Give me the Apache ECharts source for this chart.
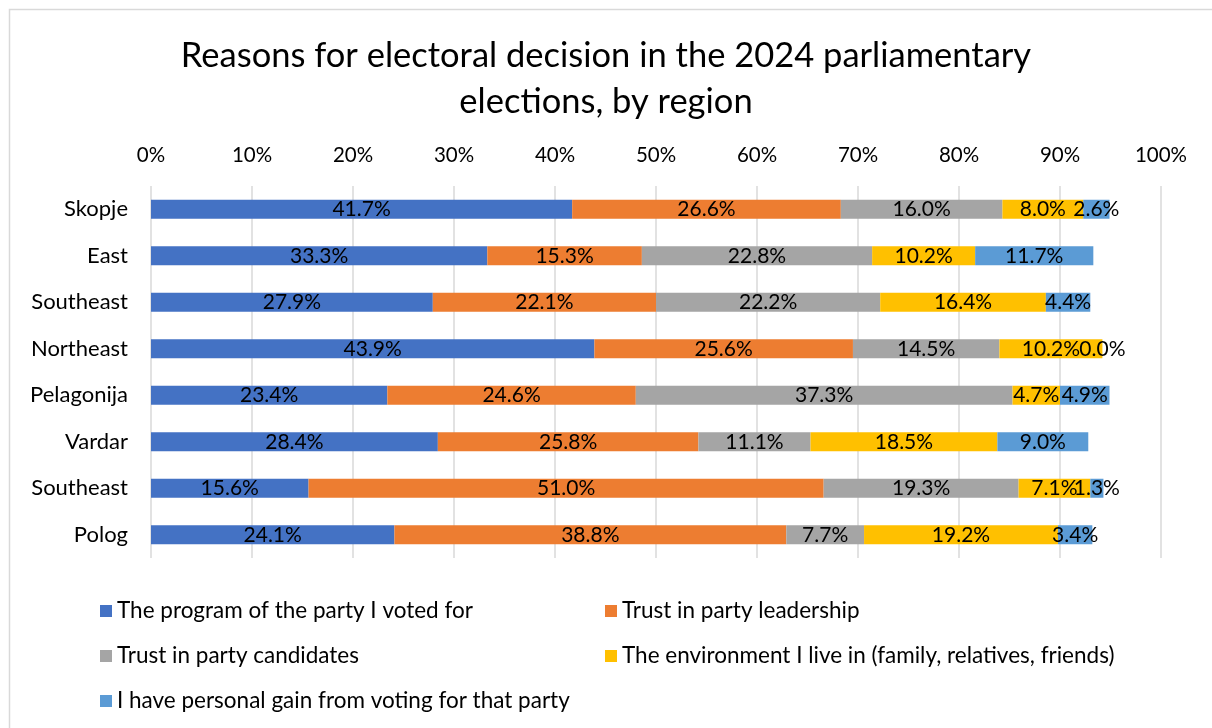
<!DOCTYPE html>
<html>
<head>
<meta charset="utf-8">
<title>Reasons for electoral decision in the 2024 parliamentary elections, by region</title>
<script src="https://cdn.jsdelivr.net/npm/echarts@6/dist/echarts.min.js"></script>
<style>
  html, body { margin: 0; padding: 0; background: #fff; }
  #chart { width: 1212px; height: 728px; }
</style>
</head>
<body>
<div id="chart"></div>
<script>
// Regions, top to bottom
const regions = ['Skopje', 'East', 'Southeast', 'Northeast', 'Pelagonija', 'Vardar', 'Southeast', 'Polog'];

// Share of respondents (%) per reason
const programOfParty   = [41.7, 33.3, 27.9, 43.9, 23.4, 28.4, 15.6, 24.1];
const trustLeadership  = [26.6, 15.3, 22.1, 25.6, 24.6, 25.8, 51.0, 38.8];
const trustCandidates  = [16.0, 22.8, 22.2, 14.5, 37.3, 11.1, 19.3, 7.7];
const environment      = [8.0, 10.2, 16.4, 10.2, 4.7, 18.5, 7.1, 19.2];
const personalGain     = [2.6, 11.7, 4.4, 0.0, 4.9, 9.0, 1.3, 3.4];

const seriesNames = [
  'The program of the party I voted for',
  'Trust in party leadership',
  'Trust in party candidates',
  'The environment I live in (family, relatives, friends)',
  'I have personal gain from voting for that party'
];
const seriesValues = [programOfParty, trustLeadership, trustCandidates, environment, personalGain];
const colors = ['#4472C4', '#ED7D31', '#A5A5A5', '#FFC000', '#5B9BD5'];

const FONT = 'Lato, "Open Sans", sans-serif';

const chart = echarts.init(document.getElementById('chart'), null, { renderer: 'canvas' });

const series = seriesNames.map((name, i) => ({
  name: name,
  type: 'bar',
  stack: 'total',
  barWidth: 19,
  data: seriesValues[i],
  itemStyle: { color: colors[i] },
  label: {
    show: true,
    position: 'inside',
    color: '#000',
    fontFamily: FONT,
    fontSize: 21,
    formatter: p => p.value.toFixed(1) + '%'
  },
  emphasis: { disabled: true },
  animation: false
}));

const legendText = { color: '#000', fontFamily: FONT, fontSize: 22.5, lineHeight: 24 };

chart.setOption({
  backgroundColor: '#fff',
  color: colors,
  animation: false,
  title: {
    text: 'Reasons for electoral decision in the 2024 parliamentary\nelections, by region',
    left: 'center',
    top: 28,
    textStyle: {
      color: '#000',
      fontFamily: FONT,
      fontSize: 34.5,
      fontWeight: 'normal',
      lineHeight: 46
    }
  },
  graphic: [{
    type: 'rect',
    shape: { x: 9.5, y: 9.5, width: 1220, height: 740 },
    style: { fill: 'none', stroke: '#d9d9d9', lineWidth: 1.5 },
    silent: true
  }],
  grid: { left: 151, right: 51, top: 186, bottom: 170, containLabel: false },
  xAxis: {
    type: 'value',
    position: 'top',
    min: 0,
    max: 100,
    interval: 10,
    axisLine: { show: false },
    axisTick: { show: false },
    axisLabel: {
      color: '#000',
      fontFamily: FONT,
      fontSize: 20.5,
      margin: 20,
      formatter: v => v + '%'
    },
    splitLine: { show: true, lineStyle: { color: '#d9d9d9', width: 1.5 } }
  },
  yAxis: {
    type: 'category',
    inverse: true,
    data: regions,
    axisLine: { show: false },
    axisTick: { show: false },
    axisLabel: {
      color: '#000',
      fontFamily: FONT,
      fontSize: 22,
      margin: 23
    }
  },
  legend: [
    {
      orient: 'vertical',
      left: 100,
      top: 599,
      padding: 0,
      itemWidth: 12,
      itemHeight: 12,
      itemGap: 21,
      icon: 'rect',
      selectedMode: false,
      data: [seriesNames[0], seriesNames[2], seriesNames[4]],
      textStyle: legendText
    },
    {
      orient: 'vertical',
      left: 605,
      top: 599,
      padding: 0,
      itemWidth: 12,
      itemHeight: 12,
      itemGap: 21,
      icon: 'rect',
      selectedMode: false,
      data: [seriesNames[1], seriesNames[3]],
      textStyle: legendText
    }
  ],
  series: series
});
</script>
</body>
</html>
